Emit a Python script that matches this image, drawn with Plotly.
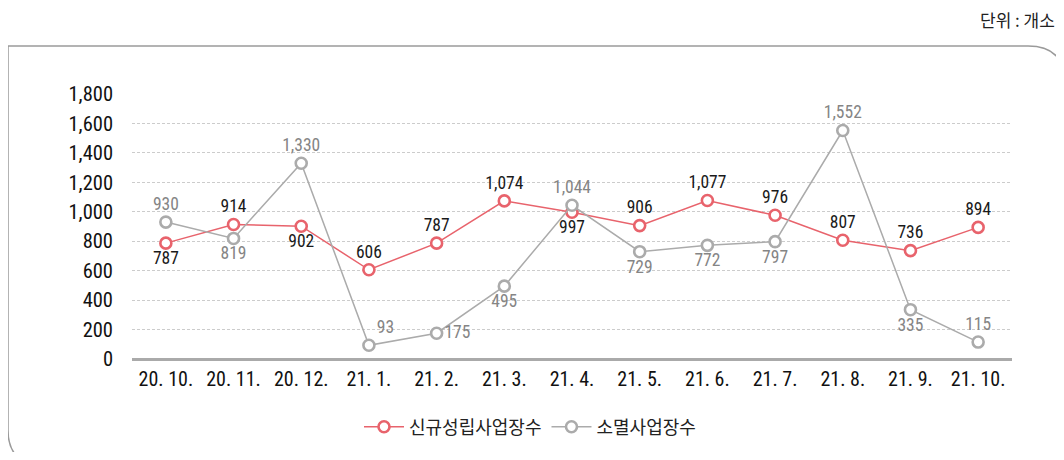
import plotly.graph_objects as go

categories = ["20. 10.", "20. 11.", "20. 12.", "21. 1.", "21. 2.", "21. 3.", "21. 4.",
              "21. 5.", "21. 6.", "21. 7.", "21. 8.", "21. 9.", "21. 10."]
new_sites = [787, 914, 902, 606, 787, 1074, 997, 906, 1077, 976, 807, 736, 894]
closed_sites = [930, 819, 1330, 93, 175, 495, 1044, 729, 772, 797, 1552, 335, 115]
new_pos = ["bottom center", "top center", "bottom center", "top center", "top center", "top center",
           "bottom center", "top center", "top center", "top center", "top center", "top center", "top center"]
closed_pos = ["top center", "bottom center", "top center", "top right", "middle right", "bottom center",
              "top center", "bottom center", "bottom center", "bottom center", "top center", "bottom center", "top center"]
y_ticks = [0, 200, 400, 600, 800, 1000, 1200, 1400, 1600, 1800]

NFONT = "Roboto Condensed, Noto Sans"
KFONT = "Noto Sans CJK KR"
RED = "#e8636c"
GRAY = "#ababab"

OFF = 8  # browser body margin
W, H = 1064 - 2 * OFF, 460 - 2 * OFF
L, R, T, B = 132 - OFF, 1012 - OFF, 94 - OFF, 359 - OFF


def px(x):
    return (x - OFF - L) / (R - L)


def py(y):
    return (B - (y - OFF)) / (B - T)


def cx(x):
    return (x - OFF) / W


def cy(y):
    return 1 - (y - OFF) / H


fig = go.Figure()
fig.add_trace(go.Scatter(
    x=categories, y=new_sites, name="신규성립사업장수", mode="lines+markers+text",
    line=dict(color=RED, width=1.5),
    marker=dict(size=11, color="white", line=dict(color=RED, width=2.6)),
    text=[f"{v:,}" for v in new_sites], textposition=new_pos,
    textfont=dict(family=NFONT, size=17.5, color="#1a1a1a"),
    cliponaxis=False, hoverinfo="skip"))
fig.add_trace(go.Scatter(
    x=categories, y=closed_sites, name="소멸사업장수", mode="lines+markers+text",
    line=dict(color=GRAY, width=1.5),
    marker=dict(size=11, color="white", line=dict(color=GRAY, width=2.6)),
    text=[f"{v:,}" for v in closed_sites], textposition=closed_pos,
    textfont=dict(family=NFONT, size=17.5, color="#858585"),
    cliponaxis=False, hoverinfo="skip"))

path = (f"M {px(8)},{py(430)} L {px(8)},{py(46)} L {px(1028)},{py(46)} "
        f"Q {px(1066)},{py(46)} {px(1066)},{py(86)} "
        f"M {px(8)},{py(430)} Q {px(8)},{py(465)} {px(44)},{py(465)}")
fig.add_shape(type="path", xref="paper", yref="paper", path=path,
              line=dict(color="#9a9a9a", width=1.5), layer="below")

fig.add_annotation(xref="paper", yref="paper", x=px(1057), y=py(19), xanchor="right", yanchor="middle",
                   text="단위 : 개소", showarrow=False, font=dict(family=KFONT, size=17, color="#222222"))

fig.update_layout(
    width=W, height=H, margin=dict(l=L, r=W - R, t=T, b=H - B, autoexpand=False),
    paper_bgcolor="white", plot_bgcolor="white",
    showlegend=True,
    legend=dict(orientation="h", xref="container", yref="container",
                x=cx(530), y=cy(427), xanchor="center", yanchor="middle",
                font=dict(family=KFONT, size=18, color="#222222"), itemwidth=40,
                bgcolor="rgba(0,0,0,0)"),
    xaxis=dict(type="category", showgrid=False, showline=False, zeroline=False,
               ticks="", ticklabelstandoff=6, tickfont=dict(family=NFONT, size=20, color="#111111"),
               range=[-0.5, 12.5], fixedrange=True, automargin=False),
    yaxis=dict(range=[0, 1800], tickvals=y_ticks, tickformat=",",
               showgrid=True, gridcolor="#cccccc", griddash="3px,2px", gridwidth=1,
               zeroline=True, zerolinecolor="#aaaaaa", zerolinewidth=3,
               showline=False, ticks="", ticklabelstandoff=18, automargin=False,
               tickfont=dict(family=NFONT, size=20.5, color="#111111"), fixedrange=True),
)

fig.write_html("out.html")
